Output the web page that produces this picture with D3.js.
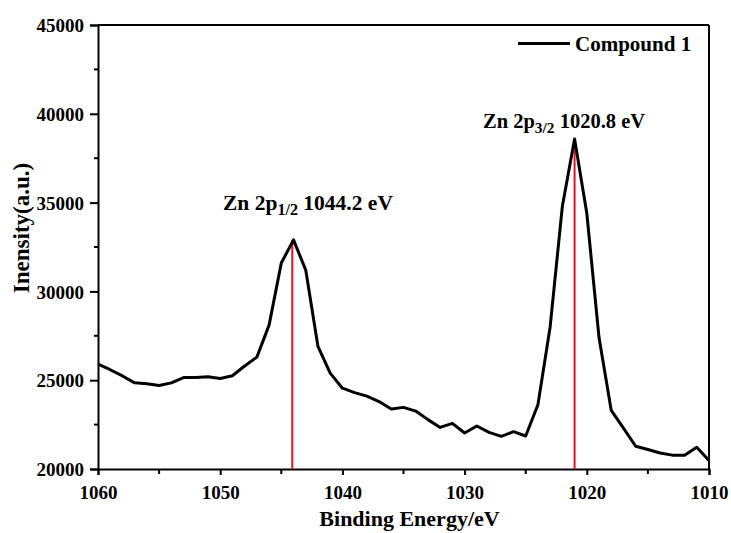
<!DOCTYPE html>
<html><head><meta charset="utf-8">
<script src="https://cdn.jsdelivr.net/npm/d3@7"></script>
<style>
html,body{margin:0;padding:0;background:#fff;}
svg{display:block;font-family:"Liberation Serif","Times New Roman",serif;font-weight:bold;}
</style></head>
<body>
<svg id="chart" width="731" height="533"></svg>
<script>
const energies = [1060,1059,1058,1057,1056,1055,1054,1053,1052,1051,1050,1049,1048,1047,1046,1045,1044,1043,1042,1041,1040,1039,1038,1037,1036,1035,1034,1033,1032,1031,1030,1029,1028,1027,1026,1025,1024,1023,1022,1021,1020,1019,1018,1017,1016,1015,1014,1013,1012,1011,1010];
const intensity = [25900,25590,25240,24850,24800,24700,24850,25150,25150,25200,25100,25250,25800,26300,28100,31600,32900,31200,26900,25400,24550,24300,24100,23800,23380,23470,23260,22780,22340,22570,22030,22420,22060,21840,22100,21860,23620,28000,34800,38580,34400,27400,23300,22300,21280,21100,20900,20780,20770,21220,20480];
const peakEnergies = [1044.1, 1021];
const peakIntensities = [32900, 38580];
const xTicks = [1060,1050,1040,1030,1020,1010];
const yTicks = [20000,25000,30000,35000,40000,45000];
const seriesName = "Compound 1";

const svg = d3.select("#chart");
const L = 98, R = 709, T = 25, B = 469;
const x = d3.scaleLinear().domain([1060,1010]).range([L,R]);
const y = d3.scaleLinear().domain([20000,45000]).range([B,T]);

// frame top/right
svg.append("line").attr("x1",L).attr("x2",R).attr("y1",T).attr("y2",T).attr("stroke","#000").attr("stroke-width",2);
svg.append("line").attr("x1",R).attr("x2",R).attr("y1",T).attr("y2",B).attr("stroke","#000").attr("stroke-width",2);

// minor ticks
const xMinor = d3.range(1055,1010,-10);
const yMinor = d3.range(22500,45000,5000);
svg.append("g").selectAll("line").data(xMinor).join("line")
  .attr("x1",d=>x(d)).attr("x2",d=>x(d)).attr("y1",B).attr("y2",B+5)
  .attr("stroke","#000").attr("stroke-width",2);
svg.append("g").selectAll("line").data(yMinor).join("line")
  .attr("x1",L-4).attr("x2",L).attr("y1",d=>y(d)).attr("y2",d=>y(d))
  .attr("stroke","#000").attr("stroke-width",2);

const xAxis = svg.append("g").attr("transform",`translate(0,${B})`)
  .call(d3.axisBottom(x).tickValues(xTicks).tickFormat(d3.format("d")).tickSize(6).tickPadding(11));
const yAxis = svg.append("g").attr("transform",`translate(${L},0)`)
  .call(d3.axisLeft(y).tickValues(yTicks).tickFormat(d3.format("d")).tickSize(8).tickPadding(6));
[xAxis,yAxis].forEach(a=>{
  a.select(".domain").attr("stroke","#000").attr("stroke-width",2);
  a.selectAll(".tick line").attr("stroke","#000").attr("stroke-width",2);
  a.selectAll(".tick text").attr("fill","#000").attr("font-size",19)
    .attr("font-family","Liberation Serif").attr("font-weight","bold");
});
yAxis.selectAll(".tick text").attr("dy","0.35em");

// red peak lines
svg.append("g").selectAll("line").data(peakEnergies).join("line")
  .attr("x1",d=>x(d)).attr("x2",d=>x(d))
  .attr("y1",(d,i)=>y(peakIntensities[i])).attr("y2",B)
  .attr("stroke","#e8101a").attr("stroke-width",2);

// data line
const line = d3.line().x((d,i)=>x(energies[i])).y(d=>y(d));
svg.append("path").datum(intensity).attr("d",line)
  .attr("fill","none").attr("stroke","#000").attr("stroke-width",3).attr("stroke-linejoin","round");

// annotations
function ann(xp, yp, sub, rest, fs){
  const t = svg.append("text").attr("x",xp).attr("y",yp).attr("font-size",fs).attr("fill","#000");
  t.append("tspan").text("Zn 2p");
  t.append("tspan").attr("font-size",fs*0.75).attr("dy",5).text(sub);
  t.append("tspan").attr("dy",-5).text(" " + rest);
}
ann(223, 210, "1/2", "1044.2 eV", 21.5);
ann(483, 128, "3/2", "1020.8 eV", 20.5);

// legend
svg.append("line").attr("x1",518).attr("x2",570).attr("y1",43.5).attr("y2",43.5).attr("stroke","#000").attr("stroke-width",3);
svg.append("text").attr("x",575).attr("y",51).attr("font-size",21).attr("fill","#000").text(seriesName);

// axis titles
svg.append("text").attr("x",(L+R)/2+6).attr("y",526).attr("text-anchor","middle").attr("font-size",22).attr("fill","#000").text("Binding Energy/eV");
svg.append("text").attr("transform","translate(29,228) rotate(-90)").attr("text-anchor","middle").attr("font-size",23).attr("fill","#000").text("Inensity(a.u.)");
</script>
</body></html>
